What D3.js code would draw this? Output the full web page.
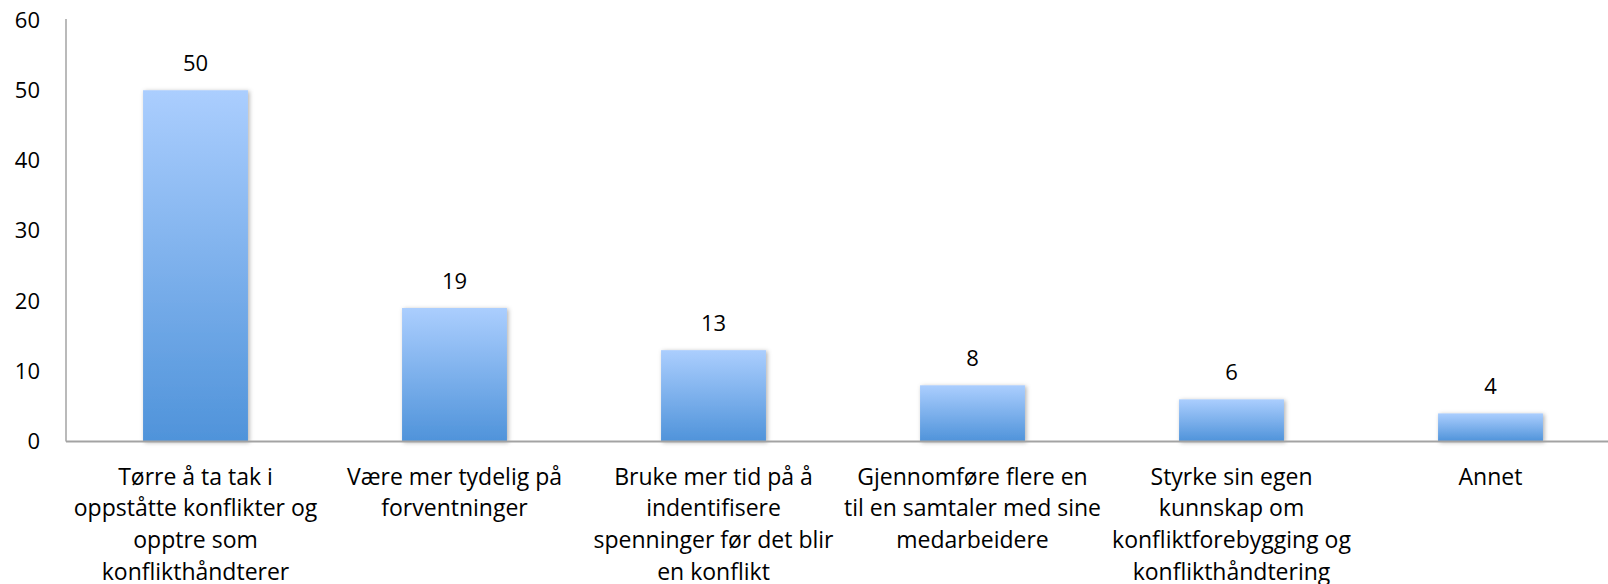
<!DOCTYPE html>
<html>
<head>
<meta charset="utf-8">
<script src="https://cdn.jsdelivr.net/npm/d3@7"></script>
<style>
  body { margin: 0; background: #fff; }
  svg { display: block; }
  text { font-family: "Open Sans", sans-serif; fill: #000; }
</style>
</head>
<body>
<div id="chart"></div>
<script>
// data
const categories = ["c1", "c2", "c3", "c4", "c5", "c6"];
const labelLines = [
  ["Tørre å ta tak i", "oppståtte konflikter og", "opptre som", "konflikthåndterer"],
  ["Være mer tydelig på", "forventninger"],
  ["Bruke mer tid på å", "indentifisere", "spenninger før det blir", "en konflikt"],
  ["Gjennomføre flere en", "til en samtaler med sine", "medarbeidere"],
  ["Styrke sin egen", "kunnskap om", "konfliktforebygging og", "konflikthåndtering"],
  ["Annet"]
];
const values = [50, 19, 13, 8, 6, 4];
const yTicks = [0, 10, 20, 30, 40, 50, 60];

const width = 1608, height = 584;
const plotLeft = 66, plotBottom = 441.5, plotTop = 20;

const svg = d3.select("#chart").append("svg")
  .attr("width", width).attr("height", height);

const defs = svg.append("defs");

// gradient for bars, light on top
const grad = defs.append("linearGradient")
  .attr("id", "barGrad")
  .attr("x1", 0).attr("y1", 0).attr("x2", 0).attr("y2", 1);
grad.append("stop").attr("offset", "0%").attr("stop-color", "#abcefe");
grad.append("stop").attr("offset", "100%").attr("stop-color", "#4f93da");

// soft shadow round the bars
const shadow = defs.append("filter").attr("id", "shadow")
  .attr("x", "-20%").attr("y", "-20%").attr("width", "140%").attr("height", "140%");
shadow.append("feDropShadow")
  .attr("dx", 1.5).attr("dy", 1).attr("stdDeviation", 2.2)
  .attr("flood-color", "#000").attr("flood-opacity", 0.3);

// scales
const xScale = d3.scaleBand()
  .domain(categories)
  .range([plotLeft, plotLeft + 6 * 259])
  .paddingInner(0.595)
  .paddingOuter(0.2975);

const yScale = d3.scaleLinear().domain([0, 60]).range([plotBottom, plotTop]);

// bars
svg.selectAll(".bar")
  .data(values)
  .enter()
  .append("rect")
  .attr("class", "bar")
  .attr("x", (d, i) => xScale(categories[i]))
  .attr("y", d => yScale(d))
  .attr("width", xScale.bandwidth())
  .attr("height", d => yScale(0) - yScale(d))
  .attr("fill", "url(#barGrad)")
  .attr("filter", "url(#shadow)");

// value labels
svg.selectAll(".val")
  .data(values)
  .enter()
  .append("text")
  .attr("class", "val")
  .attr("x", (d, i) => xScale(categories[i]) + xScale.bandwidth() / 2)
  .attr("y", d => yScale(d) - 27)
  .attr("dy", "0.35em")
  .attr("text-anchor", "middle")
  .style("font-size", "22px")
  .text(d => d);

// y axis
const yAxis = svg.append("g")
  .attr("transform", "translate(" + plotLeft + ",0)")
  .call(d3.axisLeft(yScale).tickValues(yTicks).tickSize(0).tickPadding(26));
yAxis.select(".domain")
  .attr("stroke", "#a3a3a3").attr("stroke-width", 1.5)
  .attr("d", "M0," + (plotTop - 1) + "V" + plotBottom);
yAxis.selectAll("text")
  .style("font-size", "22px")
  .style("font-family", "Open Sans, sans-serif")
  .attr("fill", "#000");

// x axis line
svg.append("line")
  .attr("x1", plotLeft).attr("x2", width)
  .attr("y1", plotBottom).attr("y2", plotBottom)
  .attr("stroke", "#a3a3a3").attr("stroke-width", 2);

// category labels
const catLabels = svg.selectAll(".cat")
  .data(labelLines)
  .enter()
  .append("text")
  .attr("class", "cat")
  .attr("text-anchor", "middle")
  .style("font-size", "23px")
  .attr("transform", (d, i) => "translate(" + (xScale(categories[i]) + xScale.bandwidth() / 2) + ",476.5)");

catLabels.selectAll("tspan")
  .data(d => d)
  .enter()
  .append("tspan")
  .attr("x", 0)
  .attr("y", (d, i) => i * 31.7)
  .attr("dy", "0.35em")
  .text(d => d);
</script>
</body>
</html>
